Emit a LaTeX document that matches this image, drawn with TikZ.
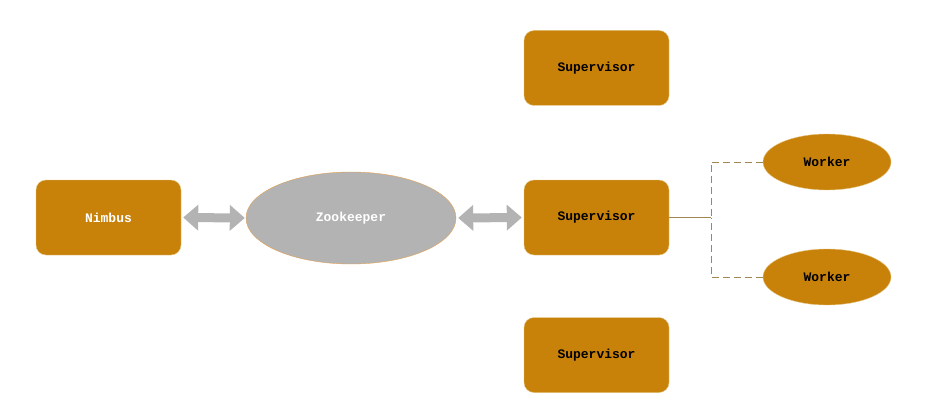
\documentclass[tikz,border=0pt]{standalone}
\usepackage{fontspec}
\setmonofont{Liberation Mono}
\usepackage{tikz}
\usetikzlibrary{arrows.meta,positioning,shapes.geometric}
\definecolor{boxcolor}{RGB}{200,130,10}
\definecolor{boxedge}{RGB}{228,196,130}
\definecolor{zkcolor}{RGB}{179,179,179}
\definecolor{zkedge}{RGB}{226,160,80}
\definecolor{linkcolor}{RGB}{160,136,80}
\tikzset{
  storm/.style={x=1pt,y=-1pt,font=\fontsize{13}{15}\selectfont\ttfamily\bfseries},
  daemon/.style={draw=boxedge,fill=boxcolor,rounded corners=10pt,minimum width=145pt,minimum height=75pt,inner sep=0pt},
  worker/.style={ellipse,draw=boxedge,fill=boxcolor,minimum width=128pt,minimum height=56pt,inner sep=0pt},
  keeper/.style={ellipse,draw=zkedge,fill=zkcolor,text=white,minimum width=210pt,minimum height=92pt,inner sep=0pt},
  bigarrow/.style={{Triangle[width=25pt,length=15pt]}-{Triangle[width=25pt,length=15pt]},line width=9pt,draw=zkcolor},
  link/.style={draw=linkcolor,line width=0.9pt},
  dashlink/.style={link,dashed,dash pattern=on 7pt off 4pt},
}
\begin{document}
\begin{tikzpicture}[storm]
\useasboundingbox (0,0) rectangle (926,417);
\node[daemon,text=white] (nimbus) at (108.5,217.5) {Nimbus};
\node[keeper] (zk) at (351,218) {Zookeeper};
\node[daemon] (supA) at (596.5,68) {Supervisor};
\node[daemon] (supB) at (596.5,217.5) {Supervisor};
\node[daemon] (supC) at (596.5,355) {Supervisor};
\node[worker] (wkA) at (827,162) {Worker};
\node[worker] (wkB) at (827,277) {Worker};
\draw[bigarrow] ([xshift=2pt]nimbus.east) -- ([xshift=-1pt]zk.west);
\draw[bigarrow] ([xshift=2pt]zk.east) -- ([xshift=-2pt]supB.west);
% supervisor to its workers
\coordinate (fork) at (711,217.5);
\draw[link] (supB.east) -- (fork);
\draw[dashlink] (wkA.west) -| (fork);
\draw[dashlink] (wkB.west) -| (fork);
\end{tikzpicture}
\end{document}
